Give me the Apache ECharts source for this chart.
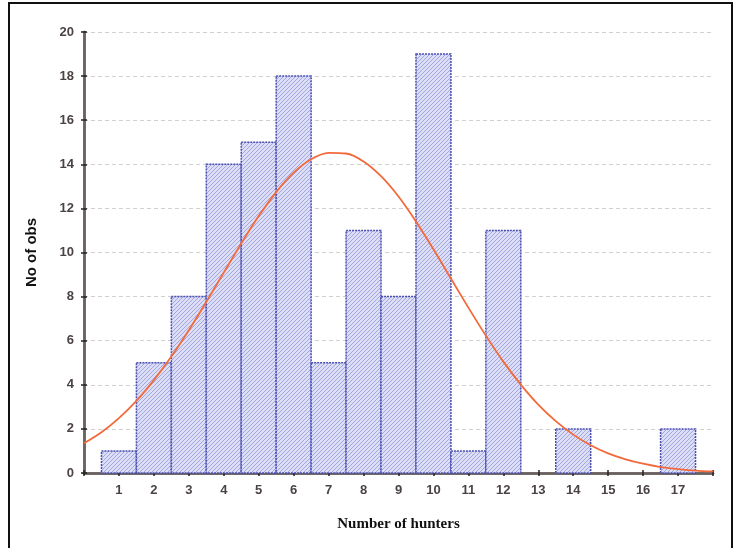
<!DOCTYPE html>
<html>
<head>
<meta charset="utf-8">
<script src="https://cdn.jsdelivr.net/npm/echarts@6/dist/echarts.min.js"></script>
<style>
  html, body { margin: 0; padding: 0; background: #fff; }
  #chart { width: 734px; height: 548px; }
</style>
</head>
<body>
<div id="chart"></div>
<script>
  // histogram: number of hunters vs. number of observations
  var hunters = [1, 2, 3, 4, 5, 6, 7, 8, 9, 10, 11, 12, 13, 14, 15, 16, 17]
  var obs = [1, 5, 8, 14, 15, 18, 5, 11, 8, 19, 1, 11, 0, 2, 0, 0, 2]

  // fitted normal curve, every half unit
  var curveX = [0, 0.5, 1, 1.5, 2, 2.5, 3, 3.5, 4, 4.5, 5, 5.5, 6, 6.5, 7, 7.5, 8, 8.5, 9,
    9.5, 10, 10.5, 11, 11.5, 12, 12.5, 13, 13.5, 14, 14.5, 15, 15.5, 16, 16.5, 17, 17.5, 18]
  var curveY = [1.35, 1.85, 2.49, 3.27, 4.21, 5.28, 6.47, 7.76, 9.09, 10.41, 11.65, 12.74, 13.62,
    14.23, 14.52, 14.49, 14.13, 13.46, 12.54, 11.41, 10.15, 8.82, 7.5, 6.23, 5.05, 4.01, 3.1,
    2.35, 1.74, 1.26, 0.89, 0.62, 0.42, 0.27, 0.18, 0.11, 0.07]

  var axisColor = '#6b6260'
  var labelColor = '#4b4343'

  // small hatch tile for the bars
  var tile = document.createElement('canvas')
  tile.width = 4
  tile.height = 4
  var tc = tile.getContext('2d')
  tc.fillStyle = '#dcdef5'
  tc.fillRect(0, 0, 4, 4)
  tc.fillStyle = '#a3a6df'
  for (var k = 0; k < 4; k++) tc.fillRect(k, 3 - k, 1, 1)

  var chart = echarts.init(document.getElementById('chart'), null, { renderer: 'canvas' })

  var barData = hunters.map(function (h, i) { return [h, obs[i]] })
  var lineData = curveX.map(function (x, i) { return [x, curveY[i]] })

  var hideEnds = function (v) { return (v === 0 || v === 18) ? '' : String(v) }

  chart.setOption({
    backgroundColor: '#fff',
    animation: false,
    grid: { left: 84, top: 32, right: 21, bottom: 75, containLabel: false },
    graphic: [{
      type: 'rect',
      shape: { x: 9, y: 3, width: 723, height: 560 },
      style: { fill: 'none', stroke: '#111', lineWidth: 2 },
      z: 100
    }],
    xAxis: [{
      type: 'value',
      min: 0,
      max: 18,
      interval: 1,
      position: 'bottom',
      name: 'Number of hunters',
      nameLocation: 'middle',
      nameGap: 44,
      nameTextStyle: { fontFamily: 'Liberation Serif', fontWeight: 'bold', fontSize: 15, color: '#111' },
      axisLine: { onZero: false, lineStyle: { color: axisColor, width: 2.5 } },
      axisTick: { inside: true, length: 3, lineStyle: { color: '#222', width: 1.5 } },
      axisLabel: { formatter: hideEnds, color: labelColor, fontFamily: 'Liberation Sans', fontWeight: 'bold', fontSize: 13, margin: 11 },
      splitLine: { show: false }
    }, {
      type: 'value',
      min: 0,
      max: 18,
      interval: 1,
      position: 'top',
      axisLine: { lineStyle: { color: axisColor, width: 2.5 } },
      axisTick: { inside: true, length: 3, lineStyle: { color: '#222', width: 1.5 } },
      axisLabel: { show: false },
      splitLine: { show: false }
    }],
    yAxis: [{
      type: 'value',
      min: 0,
      max: 20,
      interval: 2,
      position: 'left',
      name: 'No of obs',
      nameLocation: 'middle',
      nameGap: 45,
      nameTextStyle: { fontFamily: 'Liberation Sans', fontWeight: 'bold', fontSize: 15, color: '#111' },
      axisLine: { show: true, lineStyle: { color: axisColor, width: 2.5 } },
      axisTick: { show: true, inside: true, length: 3, lineStyle: { color: '#222', width: 1.5 } },
      axisLabel: { color: labelColor, fontFamily: 'Liberation Sans', fontWeight: 'bold', fontSize: 13, margin: 10 },
      splitLine: { show: true, lineStyle: { color: '#d0d0d0', type: [4, 3], width: 1 } }
    }, {
      type: 'value',
      min: 0,
      max: 20,
      interval: 2,
      position: 'right',
      axisLine: { show: true, lineStyle: { color: axisColor, width: 2.5 } },
      axisTick: { show: true, inside: true, length: 3, lineStyle: { color: '#222', width: 1.5 } },
      axisLabel: { show: false },
      splitLine: { show: false }
    }],
    series: [{
      type: 'custom',
      xAxisIndex: 0,
      yAxisIndex: 0,
      data: barData,
      renderItem: function (params, api) {
        var x = api.value(0)
        var y = api.value(1)
        if (!y) return null
        var p0 = api.coord([x - 0.5, y])
        var p1 = api.coord([x + 0.5, 0])
        return {
          type: 'rect',
          shape: { x: p0[0], y: p0[1], width: p1[0] - p0[0], height: p1[1] - p0[1] },
          style: {
            fill: { image: tile, repeat: 'repeat' },
            stroke: '#4a4fb0',
            lineWidth: 1.5,
            lineDash: [2, 1]
          }
        }
      },
      z: 2
    }, {
      type: 'line',
      xAxisIndex: 0,
      yAxisIndex: 0,
      data: lineData,
      smooth: 0.3,
      showSymbol: false,
      lineStyle: { color: '#f26a3c', width: 1.8 },
      z: 3
    }]
  })
</script>
</body>
</html>
